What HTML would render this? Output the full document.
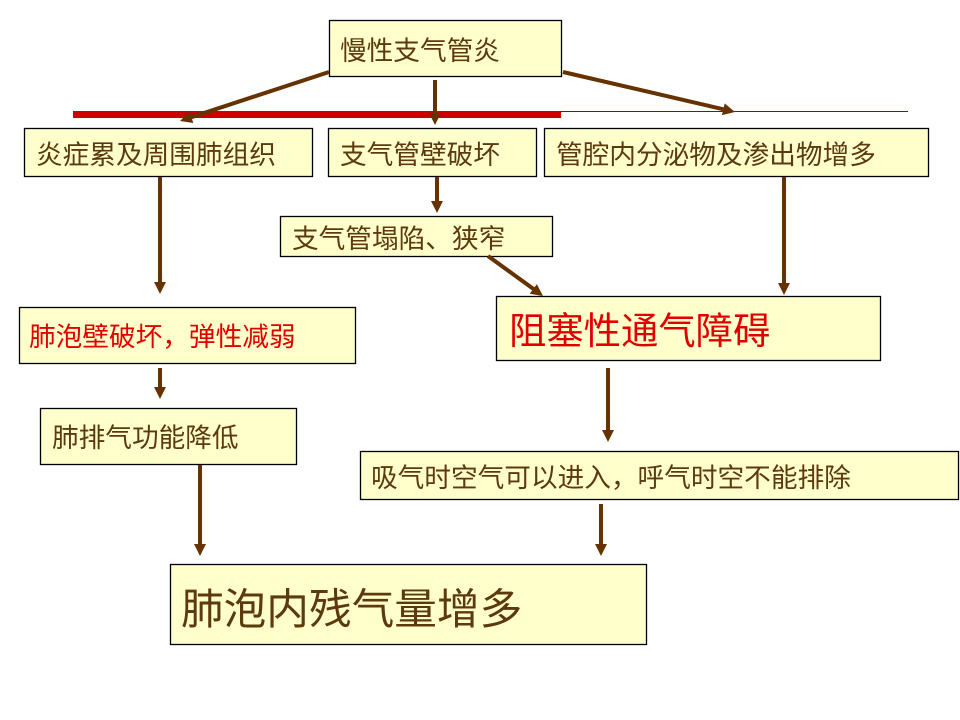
<!DOCTYPE html>
<html>
<head>
<meta charset="utf-8">
<style>
  html, body { margin: 0; padding: 0; background: #ffffff; }
  body { width: 960px; height: 720px; overflow: hidden; }
  svg { display: block; }
  text { font-family: "Liberation Sans", "Noto Sans CJK SC", sans-serif; }
</style>
</head>
<body>
<svg width="960" height="720" viewBox="0 0 960 720" xmlns="http://www.w3.org/2000/svg">
  <rect x="0" y="0" width="960" height="720" fill="#ffffff"/>

  <!-- red lines -->
  <rect x="73" y="111" width="488" height="7" fill="#CC0000"/>
  <line x1="561" y1="111.5" x2="908" y2="111.5" stroke="#A00000" stroke-width="1"/>

  <!-- boxes -->
  <g fill="#FFFFCC" stroke="#000000" stroke-width="1.3">
    <rect x="329.5" y="20.5" width="232" height="56"/>
    <rect x="24.5" y="128.5" width="288" height="48"/>
    <rect x="328.5" y="128.5" width="208" height="48"/>
    <rect x="544.5" y="128.5" width="384" height="48"/>
    <rect x="280.5" y="216.5" width="272" height="40"/>
    <rect x="496.5" y="296.5" width="384" height="64"/>
    <rect x="19.5" y="307.5" width="336" height="56"/>
    <rect x="40.5" y="408.5" width="256" height="56"/>
    <rect x="360.5" y="451.5" width="598" height="48"/>
    <rect x="170.5" y="564.5" width="476" height="80"/>
  </g>

  <!-- arrows -->
  <g stroke="#663300" stroke-width="4" fill="none">
    <line x1="329" y1="72" x2="191" y2="117.3"/>
    <line x1="435" y1="80" x2="435" y2="114"/>
    <line x1="563" y1="72" x2="723.5" y2="109.3"/>
    <line x1="160" y1="177" x2="160" y2="283"/>
    <line x1="437" y1="177" x2="437" y2="202"/>
    <line x1="488" y1="256" x2="533.5" y2="289"/>
    <line x1="784" y1="177" x2="784" y2="284"/>
    <line x1="160" y1="368" x2="160" y2="388"/>
    <line x1="608" y1="368" x2="608" y2="431"/>
    <line x1="200" y1="465" x2="200" y2="545"/>
    <line x1="601" y1="504" x2="601" y2="545"/>
  </g>
  <g fill="#663300">
    <polygon points="180,121 189.5,111.5 193.3,123"/>
    <polygon points="429,113 441,113 435,125"/>
    <polygon points="735,112 721.9,115.1 724.7,103.4"/>
    <polygon points="154,282 166,282 160,294"/>
    <polygon points="431,201 443,201 437,213"/>
    <polygon points="543,296 529.8,293.8 536.8,284.1"/>
    <polygon points="778,283 790,283 784,295"/>
    <polygon points="154,387 166,387 160,399"/>
    <polygon points="602,430 614,430 608,442"/>
    <polygon points="194,544 206,544 200,556"/>
    <polygon points="595,544 607,544 601,556"/>
  </g>

  <!-- text -->
  <g fill="#5C3A0E" font-size="26.67">
    <text x="340" y="60">慢性支气管炎</text>
    <text x="36" y="164">炎症累及周围肺组织</text>
    <text x="340" y="164">支气管壁破坏</text>
    <text x="556" y="164">管腔内分泌物及渗出物增多</text>
    <text x="292" y="248">支气管塌陷、狭窄</text>
    <text x="52" y="447">肺排气功能降低</text>
    <text x="371" y="487">吸气时空气可以进入，呼气时空不能排除</text>
  </g>
  <text x="29" y="346" font-size="26.67" fill="#E00000">肺泡壁破坏，弹性减弱</text>
  <text x="509" y="344" font-size="37.33" fill="#E00000">阻塞性通气障碍</text>
  <text x="181" y="624" font-size="42.67" fill="#5C3A0E">肺泡内残气量增多</text>
</svg>
</body>
</html>
